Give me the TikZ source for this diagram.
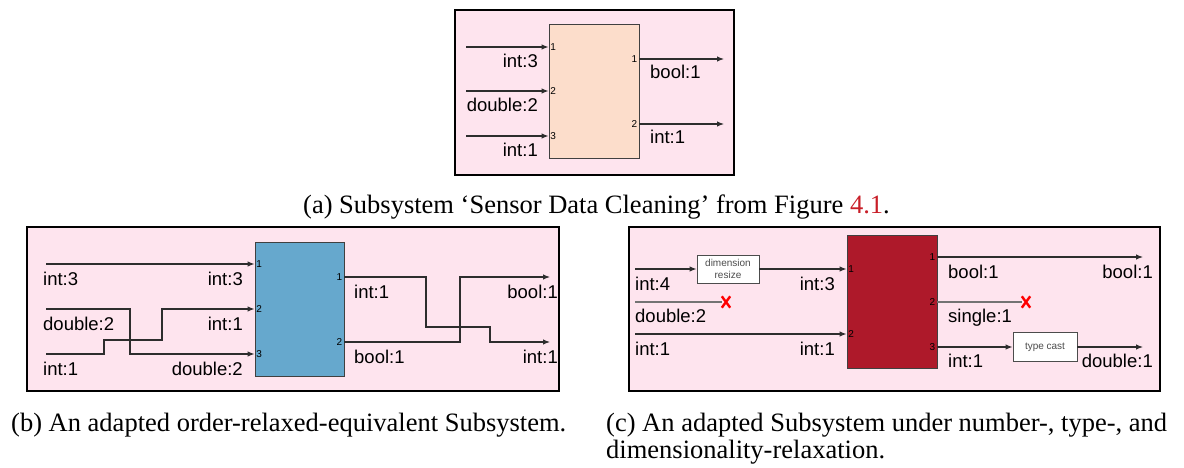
\documentclass[tikz,border=0pt]{standalone}
\usepackage{fontspec}
\setmainfont{Liberation Serif}
\setsansfont{Liberation Sans}
\usetikzlibrary{arrows.meta,shapes.misc}
\definecolor{panelpink}{RGB}{254,228,238}
\definecolor{blockpeach}{RGB}{252,221,203}
\definecolor{blockblue}{RGB}{102,168,205}
\definecolor{blockred}{RGB}{174,25,42}
\definecolor{wiregray}{RGB}{45,45,45}
\definecolor{linkred}{RGB}{200,30,40}
\tikzset{
  panel/.style={draw=black, line width=1.4pt, fill=panelpink},
  block/.style={draw=black!75, line width=0.9pt},
  wire/.style={draw=wiregray, line width=1.1pt},
  sig/.style={wire, -{Latex[length=7pt,width=5.5pt]}},
  deadwire/.style={draw=black!55, line width=1.3pt},
  lbl/.style={font=\sffamily\fontsize{18.5}{20}\selectfont, inner sep=0pt},
  port/.style={font=\sffamily\fontsize{10}{11}\selectfont, inner sep=0pt},
  conv/.style={draw=black!70, fill=white, line width=0.9pt, text=black!70,
    font=\sffamily\fontsize{10}{11.5}\selectfont, align=center, inner sep=1pt},
  drop/.style={cross out, draw=red, line width=2.4pt, minimum width=6pt,
    minimum height=9pt, inner sep=0pt},
  capt/.style={font=\fontsize{26.5}{27}\selectfont, inner sep=0pt, align=left}
}
\begin{document}
\begin{tikzpicture}[x=1pt,y=-1pt]
\useasboundingbox (0,0) rectangle (1184,468);
% (a) original subsystem
\draw[panel] (455,10) rectangle (734,175);
\node[block, fill=blockpeach, minimum width=90pt, minimum height=134pt] (sa) at (594,91) {};
\foreach \n/\y/\t in {1/47/int:3, 2/91/double:2, 3/136/int:1}
{
	\coordinate (ain\n) at (466,\y);
	\draw[sig] (ain\n) -- (sa.west |- ain\n);
	\node[port, anchor=west] (pain\n) at ([xshift=1.5pt]sa.west |- ain\n) {\n};
	\node[lbl, anchor=base east] (lain\n) at (538,\y+21) {\t};
}
\foreach \n/\y/\t in {1/59/bool:1, 2/124/int:1}
{
	\coordinate (aout\n) at (724,\y);
	\draw[sig] (sa.east |- aout\n) -- (aout\n);
	\node[port, anchor=east] (paout\n) at ([xshift=-2pt]sa.east |- aout\n) {\n};
	\node[lbl, anchor=base west] (laout\n) at (650,\y+20) {\t};
}
\node[capt, anchor=base west] (capa) at (303,213) {(a) Subsystem ‘Sensor Data Cleaning’ from Figure \textcolor{linkred}{4.1}.};
% (b) order-relaxed
\draw[panel] (27,227) rectangle (559,391);
\node[block, fill=blockblue, minimum width=89pt, minimum height=134pt] (sb) at (299.5,309) {};
\coordinate (bin1) at (46,264);
\coordinate (bin2) at (46,309);
\coordinate (bin3) at (46,354);
\draw[sig] (bin1) -- (sb.west |- bin1);
\draw[sig] (bin2) -| (130,354) -- (sb.west |- bin3);
\draw[sig] (bin3) -| (104,340) -| (162,309) -- (sb.west |- bin2);
\foreach \n/\y in {1/264, 2/309, 3/354}
	\node[port, anchor=west] (pbin\n) at ([xshift=1.5pt]sb.west |- 0,\y) {\n};
\foreach \n/\y/\s/\t in {1/264/int:3/int:3, 2/309/double:2/int:1, 3/354/int:1/double:2}
{
	\node[lbl, anchor=base west] (lbin\n) at (43,\y+21) {\s};
	\node[lbl, anchor=base east] (rbin\n) at (243,\y+21) {\t};
}
\coordinate (bout1) at (550,277);
\coordinate (bout2) at (550,342);
\draw[sig] (sb.east |- bout1) -| (426,327) -| (490,342) -- (bout2);
\draw[sig] (sb.east |- bout2) -| (460,277) -- (bout1);
\foreach \n/\y/\s/\t in {1/277/int:1/bool:1, 2/342/bool:1/int:1}
{
	\node[port, anchor=east] (pbout\n) at ([xshift=-2pt]sb.east |- 0,\y) {\n};
	\node[lbl, anchor=base west] (lbout\n) at (354,\y+21) {\s};
	\node[lbl, anchor=base east] (rbout\n) at (558,\y+21) {\t};
}
\node[capt, anchor=base west] (capb) at (11,431) {(b) An adapted order-relaxed-equivalent Subsystem.};
% (c) number-, type- and dimensionality-relaxed
\draw[panel] (629,227) rectangle (1160,391);
\node[block, fill=blockred, minimum width=90pt, minimum height=133pt] (sc) at (892,301.5) {};
\coordinate (cin1) at (635,269);
\coordinate (cin2) at (635,302);
\coordinate (cin3) at (635,334);
\node[conv, minimum width=62pt, minimum height=28pt] (resize) at (728,269) {dimension\\resize};
\node[drop] (dropin) at (726,302) {};
\draw[sig] (cin1) -- (resize.west);
\draw[sig] (resize.east) -- (sc.west |- resize.east);
\draw[deadwire] (cin2) -- (dropin.west);
\draw[sig] (cin3) -- (sc.west |- cin3);
\foreach \n/\y in {1/269, 2/334}
	\node[port, anchor=west] (pcin\n) at ([xshift=1.5pt]sc.west |- 0,\y) {\n};
\node[lbl, anchor=base west] (lcin1) at (635,290) {int:4};
\node[lbl, anchor=base east] (rcin1) at (835,290) {int:3};
\node[lbl, anchor=base west] (lcin2) at (635,322) {double:2};
\node[lbl, anchor=base west] (lcin3) at (635,355) {int:1};
\node[lbl, anchor=base east] (rcin3) at (835,355) {int:1};
\coordinate (cout1) at (1143,257);
\coordinate (cout3) at (1143,347);
\node[drop] (dropout) at (1026,302) {};
\node[conv, minimum width=64pt, minimum height=29pt] (cast) at (1045,347) {type cast};
\draw[sig] (sc.east |- cout1) -- (cout1);
\draw[deadwire] (sc.east |- dropout) -- (dropout.west);
\draw[sig] (sc.east |- cast) -- (cast.west);
\draw[sig] (cast.east) -- (cout3);
\foreach \n/\y in {1/257, 2/302, 3/347}
	\node[port, anchor=east] (pcout\n) at ([xshift=-2pt]sc.east |- 0,\y) {\n};
\node[lbl, anchor=base west] (lcout1) at (948,278) {bool:1};
\node[lbl, anchor=base east] (rcout1) at (1153,278) {bool:1};
\node[lbl, anchor=base west] (lcout2) at (948,322) {single:1};
\node[lbl, anchor=base west] (lcout3) at (948,367) {int:1};
\node[lbl, anchor=base east] (rcout3) at (1153,367) {double:1};
\node[capt, anchor=base west] (capc) at (606,458) {(c) An adapted Subsystem under number-, type-, and\\dimensionality-relaxation.};
\end{tikzpicture}
\end{document}
